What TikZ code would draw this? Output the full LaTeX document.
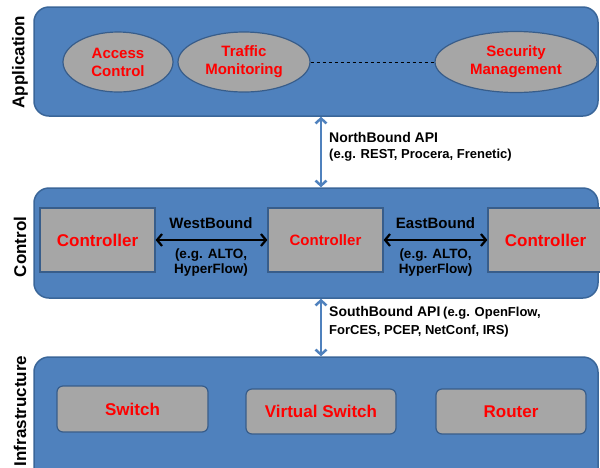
\documentclass[tikz,border=0pt]{standalone}
\usepackage{fontspec}
\setmainfont{Liberation Sans}
\usetikzlibrary{shapes.geometric,arrows.meta}
\definecolor{bandblue}{HTML}{4F81BD}
\definecolor{bandedge}{HTML}{3A6699}
\definecolor{boxgray}{HTML}{A6A6A6}
\definecolor{boxedge}{HTML}{385D8A}
\definecolor{txtred}{HTML}{FF0000}
\newcommand{\fsz}[1]{\bfseries\fontsize{#1}{#1}\selectfont}
\begin{document}
\begin{tikzpicture}[x=1pt,y=-1pt,
  band/.style={draw=bandedge, line width=1.5pt, fill=bandblue, rounded corners=15pt,
    minimum width=564pt, inner sep=0pt},
  layerlabel/.style={rotate=90, font=\fsz{17}, text=black},
  app/.style={ellipse, draw=boxedge, line width=1.2pt, fill=boxgray, inner sep=0pt,
    align=center, text=txtred, font=\fsz{15}\linespread{1.2}\selectfont},
  ctrlbox/.style={rectangle, draw=boxedge, line width=1.2pt, fill=boxgray, inner sep=0pt,
    minimum width=115pt, minimum height=64pt, text=txtred},
  devbox/.style={rectangle, rounded corners=6pt, draw=boxedge, line width=1.2pt, fill=boxgray,
    inner sep=0pt, minimum width=150pt, minimum height=45pt, text=txtred, font=\fsz{17}},
  vapi/.style={draw=bandblue, line width=2.5pt, {Straight Barb[length=5pt,width=11pt]}-{Straight Barb[length=5pt,width=11pt]}},
  hapi/.style={draw=black, line width=2.2pt, {Straight Barb[length=5pt,width=12pt]}-{Straight Barb[length=5pt,width=12pt]}},
  apitext/.style={anchor=west, inner sep=0pt, text=black},
  boundtext/.style={align=center, inner sep=0pt, text=black}
]
\useasboundingbox (0,0) rectangle (600,467);
\clip (0,0) rectangle (600,467);

% layer bands
\node[band, minimum height=109pt] (appband) at (316,61.5) {};
\node[band, minimum height=110pt] (ctrlband) at (316,243) {};
\node[band, minimum height=132pt] (infraband) at (316,423) {};

% layer names
\node[layerlabel] (lapp) at (20,62) {Application};
\node[layerlabel] (lctrl) at (20,247) {Control};
\node[layerlabel] (linfra) at (20,411) {Infrastructure};

% applications
\node[app, minimum width=110pt, minimum height=60pt] (access) at (118,62) {Access\\Control};
\node[app, minimum width=132pt, minimum height=60pt] (traffic) at (244,62) {Traffic\\Monitoring};
\node[app, minimum width=162pt, minimum height=61pt] (security) at (516,62) {Security\\Management};
\draw[dashed, line width=0.8pt] (traffic.east) -- (security.west);

% controllers
\node[ctrlbox, font=\fsz{17}] (cleft) at (97.5,240) {Controller};
\node[ctrlbox, font=\fsz{15}] (cmid) at (325.5,240) {Controller};
\node[ctrlbox, font=\fsz{17}] (cright) at (545.5,240) {Controller};

\draw[hapi] (cleft.east) -- (cmid.west);
\draw[hapi] (cmid.east) -- (cright.west);

\node[boundtext, font=\fsz{15}] (wtitle) at (211,223) {WestBound};
\node[boundtext, font=\bfseries\fontsize{13.5}{15}\selectfont] (wsub) at (211,263) {(e.g. ALTO,\\HyperFlow)};
\node[boundtext, font=\fsz{15}] (etitle) at (435.5,223) {EastBound};
\node[boundtext, font=\bfseries\fontsize{13.5}{15}\selectfont] (esub) at (435.5,263) {(e.g. ALTO,\\HyperFlow)};

% devices
\node[devbox, minimum width=151pt, minimum height=46pt] (switch) at (132.5,409) {Switch};
\node[devbox] (vswitch) at (321,411.5) {Virtual Switch};
\node[devbox] (router) at (511,411.5) {Router};

% northbound / southbound interfaces
\coordinate (apix) at (321,0);
\draw[vapi] (appband.south -| apix) -- (ctrlband.north -| apix);
\draw[vapi] (ctrlband.south -| apix) -- (infraband.north -| apix);

\node[apitext, font=\fsz{14}] (nbt) at (329,137) {NorthBound API};
\node[apitext, font=\fsz{13}] (nbs) at (329,155) {(e.g. REST, Procera, Frenetic)};
\node[apitext] (sbt) at (329,313) {{\fsz{14}SouthBound API} {\fsz{13}(e.g. OpenFlow,}};
\node[apitext, font=\fsz{13}] (sbs) at (329,331) {ForCES, PCEP, NetConf, IRS)};
\end{tikzpicture}
\end{document}
